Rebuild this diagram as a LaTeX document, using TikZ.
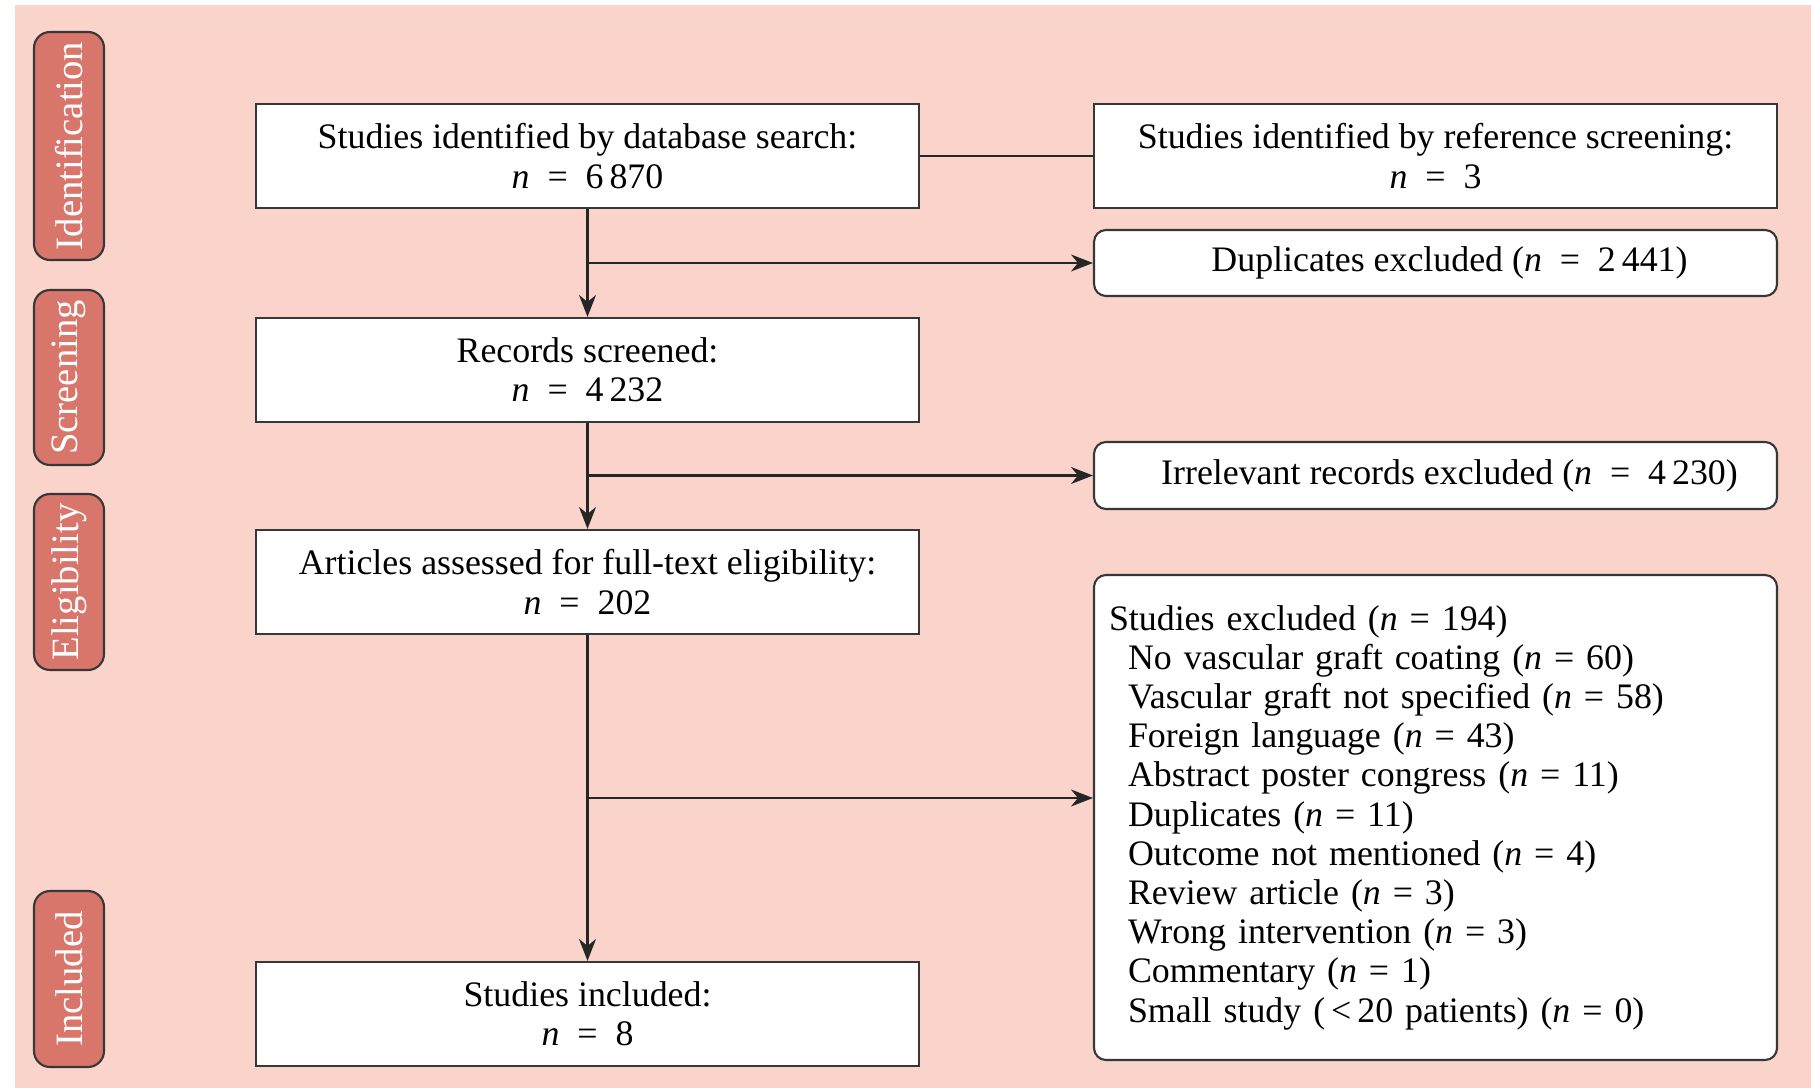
\documentclass[tikz,border=0pt]{standalone}
\usepackage{fontspec}
\setmainfont{Liberation Serif}
\usepackage{tikz}
\usetikzlibrary{arrows.meta}
\definecolor{bgpink}{RGB}{250,212,202}
\definecolor{tabred}{RGB}{217,118,108}
\definecolor{boxline}{RGB}{55,55,55}
\newcommand{\ncount}{\textit{n}\enspace=\enspace}

\begin{document}
\begin{tikzpicture}[
    box/.style={draw=boxline,fill=white,line width=0.6pt,align=center,inner sep=0pt,font=\fontsize{10.2}{11.2}\selectfont},
    stagebox/.style={box,minimum width=6.63cm,minimum height=1.04cm},
    sidebox/.style={box,minimum width=6.83cm},
    phasetab/.style={draw=boxline,fill=tabred,line width=0.6pt,rounded corners=1.6mm,rotate=90,text=white,minimum height=0.70cm,inner sep=0pt,font=\fontsize{11}{12}\selectfont},
    flow/.style={line width=0.6pt,draw=black!85,-{Stealth[length=2.2mm,width=1.7mm,inset=0.7mm]}}
]
        \useasboundingbox (0,0) rectangle (18.11,10.88);
        \fill[bgpink] (0.15,0) rectangle (18.11,10.83);

        \node[phasetab,minimum width=2.28cm] (ident) at (0.69,9.42) {Identification}; %1
        \node[phasetab,minimum width=1.75cm] (screen) at (0.69,7.105) {Screening}; %2
        \node[phasetab,minimum width=1.76cm] (elig) at (0.69,5.06) {Eligibility}; %3
        \node[phasetab,minimum width=1.76cm] (incl) at (0.69,1.09) {Included}; %4

        \node[stagebox] (db) at (5.875,9.32) {Studies identified by database search:\\ \ncount 6\,870};
        \node[stagebox] (scr) at (5.875,7.18) {Records screened:\\ \ncount 4\,232};
        \node[stagebox] (full) at (5.875,5.06) {Articles assessed for full-text eligibility:\\ \ncount 202};
        \node[stagebox] (inc) at (5.875,0.74) {Studies included:\\ \ncount 8};

        \node[sidebox,minimum height=1.04cm] (ref) at (14.355,9.32) {Studies identified by reference screening:\\ \ncount 3};
        \node[sidebox,rounded corners=1.2mm,minimum height=0.66cm] (dup) at (14.355,8.25) {\hspace*{0.28cm}Duplicates excluded (\ncount 2\,441)};
        \node[sidebox,rounded corners=1.2mm,minimum height=0.67cm] (irr) at (14.355,6.125) {\hspace*{0.28cm}Irrelevant records excluded (\ncount 4\,230)};
        \node[sidebox,rounded corners=1.2mm,minimum height=4.85cm,text width=6.53cm,inner xsep=0.15cm,align=left,font=\fontsize{10.2}{11.15}\selectfont] (excl) at (14.355,2.705) {%
          Studies excluded (\textit{n} = 194)\\
          \hspace*{1.9mm}No vascular graft coating (\textit{n} = 60)\\
          \hspace*{1.9mm}Vascular graft not specified (\textit{n} = 58)\\
          \hspace*{1.9mm}Foreign language (\textit{n} = 43)\\
          \hspace*{1.9mm}Abstract poster congress (\textit{n} = 11)\\
          \hspace*{1.9mm}Duplicates (\textit{n} = 11)\\
          \hspace*{1.9mm}Outcome not mentioned (\textit{n} = 4)\\
          \hspace*{1.9mm}Review article (\textit{n} = 3)\\
          \hspace*{1.9mm}Wrong intervention (\textit{n} = 3)\\
          \hspace*{1.9mm}Commentary (\textit{n} = 1)\\
          \hspace*{1.9mm}Small study (\,<\,20 patients) (\textit{n} = 0)};

        \coordinate (b1) at (db.south |- dup.west);
        \coordinate (b2) at (scr.south |- irr.west);
        \coordinate (b3) at (5.875,2.90);

        \draw[line width=0.6pt,draw=black!85] (db) -- (ref);
        \draw[flow] (db) -- (scr);
        \draw[flow] (b1) -- (dup);
        \draw[flow] (scr) -- (full);
        \draw[flow] (b2) -- (irr);
        \draw[flow] (full) -- (inc);
        \draw[flow] (b3) -- (b3 -| excl.west);
    \end{tikzpicture}
\end{document}
